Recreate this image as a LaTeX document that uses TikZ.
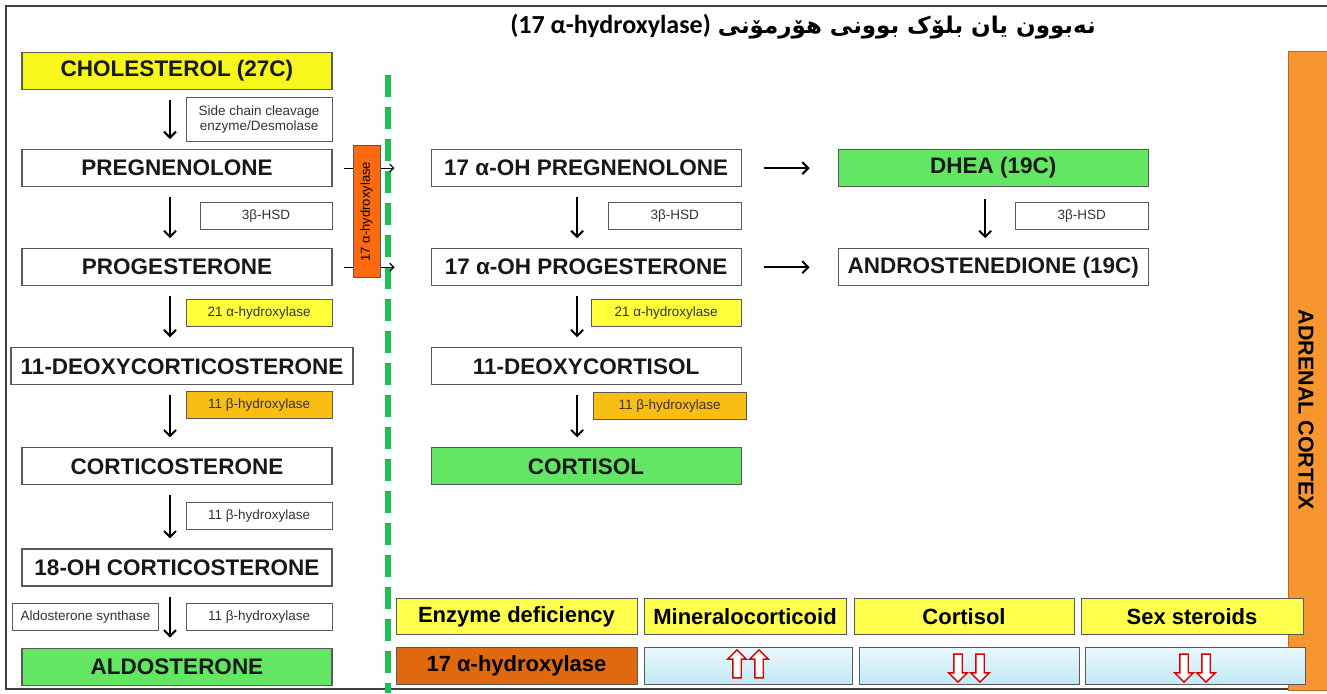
\documentclass[tikz,border=0pt]{standalone}
\usepackage{fontspec}
\setmainfont{Liberation Sans}
\newfontfamily\kurdfont[Script=Arabic]{DejaVu Sans}
\newfontfamily\titlefont{Carlito}
\TeXXeTstate=1
\usepackage{tikz}
\usetikzlibrary{positioning,arrows.meta,shapes.arrows,calc}
\definecolor{cholyel}{HTML}{F7F71B}
\definecolor{enzyel}{HTML}{FFFF3A}
\definecolor{hormgreen}{HTML}{63E663}
\definecolor{amber}{HTML}{F9BE14}
\definecolor{hydorange}{HTML}{FF6A10}
\definecolor{deforange}{HTML}{E0680F}
\definecolor{adrorange}{HTML}{F7962F}
\definecolor{adrstroke}{HTML}{B86A20}
\definecolor{headyel}{HTML}{FFFF4D}
\definecolor{dashgreen}{HTML}{1DBF55}
\definecolor{boxstroke}{HTML}{5A5A5A}
\definecolor{celltop}{HTML}{EAF8FC}
\definecolor{cellbot}{HTML}{BFE8F5}
\tikzset{
  box/.style    = {draw=boxstroke, line width=1.1pt, fill=white, align=center,
                   inner sep=2pt, minimum width=310pt, minimum height=37pt,
                   font=\bfseries\fontsize{22.5}{25}\selectfont, text=black!90},
  enz/.style    = {draw=boxstroke, line width=1pt, fill=white, align=center,
                   inner sep=2pt, minimum height=27pt, anchor=east,
                   font=\fontsize{13.5}{15}\selectfont, text=black!80},
  thead/.style  = {draw=boxstroke, line width=1pt, fill=headyel, inner sep=2pt,
                   minimum height=36pt, font=\bfseries\fontsize{22}{25}\selectfont},
  tval/.style   = {draw=boxstroke, line width=1pt, top color=celltop,
                   bottom color=cellbot, minimum height=37pt, inner sep=0pt},
  down/.style   = {-{Straight Barb[length=6pt,width=12pt]}, line width=2pt},
  across/.style = {-{Straight Barb[length=6pt,width=12pt]}, line width=2pt},
  thin/.style   = {-{Straight Barb[length=4pt,width=8pt]}, line width=1.2pt},
  hollow/.style = {single arrow, draw=red!85!black, fill=white, line width=1.4pt,
                   minimum height=28pt, inner sep=3.5pt,
                   single arrow head extend=5pt, single arrow head indent=0pt},
  uparr/.style  = {hollow, shape border rotate=90},
  dnarr/.style  = {hollow, shape border rotate=270},
}

\begin{document}
\begin{tikzpicture}[x=1pt, y=-1pt]
  \useasboundingbox (0,0) rectangle (1327,693);
  \fill[white] (0,0) rectangle (1327,693);

  % frame and adrenal cortex bar
  \draw[line width=1.2pt, black!75] (1327,6) -- (6,6) -- (6,689) -- (1327,689);
  \node[draw=adrstroke, fill=adrorange, line width=1pt, minimum width=40pt,
        minimum height=638pt, inner sep=0pt] (adr) at (1308,371) {};
  \node[rotate=-90, font=\bfseries\fontsize{21.5}{24}\selectfont] (adrtxt)
        at (1306,410) {ADRENAL CORTEX};

  % title
  \node (title) at (803,27)
        {{\titlefont\bfseries\fontsize{26}{28}\selectfont (17 α-hydroxylase)}\hspace{7pt}%
         {\kurdfont\bfseries\fontsize{23}{28}\selectfont\beginR نەبوون یان بلۆک بوونی هۆرمۆنی\endR}};

  % --- mineralocorticoid column ---
  \node[box, fill=cholyel] (chol) at (177,71) {CHOLESTEROL (27C)};
  \node[box, below=59pt of chol] (preg) {PREGNENOLONE};
  \node[box, below=61pt of preg] (prog) {PROGESTERONE};
  \node[box, below=61pt of prog, minimum width=342pt, xshift=5pt] (doc)
        {11-DEOXYCORTICOSTERONE};
  \node[box, below=62pt of doc, xshift=-5pt] (cort) {CORTICOSTERONE};
  \node[box, below=63pt of cort] (ohc) {18-OH CORTICOSTERONE};
  \node[box, fill=hormgreen, below=61pt of ohc] (aldo) {ALDOSTERONE};

  \node[enz, minimum width=146pt, minimum height=44pt, yshift=-29pt] (scc)
        at (chol.south east) {Side chain cleavage\\enzyme/Desmolase};
  \node[enz, minimum width=132pt, yshift=-29pt] (hsdA) at (preg.south east) {3β-HSD};
  \node[enz, minimum width=146pt, fill=enzyel, yshift=-27pt] (hydA)
        at (prog.south east) {21 α-hydroxylase};
  \node[enz, minimum width=146pt, fill=amber, yshift=-20pt] (obA)
        at (doc.south -| prog.east) {11 β-hydroxylase};
  \node[enz, minimum width=146pt, yshift=-31pt] (obB) at (cort.south east) {11 β-hydroxylase};
  \node[enz, minimum width=146pt, yshift=-30pt] (obC) at (ohc.south east) {11 β-hydroxylase};
  \node[enz, minimum width=146pt, anchor=west, yshift=-30pt] (synth)
        at (12,0 |- ohc.south) {Aldosterone synthase};

  \foreach \a/\b in {chol/preg, preg/prog, prog/doc, doc/cort, cort/ohc, ohc/aldo}
    \draw[down] ([yshift=-10pt]\a.south -| 170,0) -- ([yshift=10pt]\b.north -| 170,0);

  % --- glucocorticoid column ---
  \node[box, right=98pt of preg] (ohpreg) {17 α-OH PREGNENOLONE};
  \node[box, right=98pt of prog] (ohprog) {17 α-OH PROGESTERONE};
  \node[box, below=61pt of ohprog] (dcort) {11-DEOXYCORTISOL};
  \node[box, fill=hormgreen, below=62pt of dcort] (cortisol) {CORTISOL};

  \node[enz, minimum width=133pt, yshift=-29pt] (hsdB) at (ohpreg.south east) {3β-HSD};
  \node[enz, minimum width=150pt, fill=enzyel, yshift=-27pt] (hydB)
        at (ohprog.south east) {21 α-hydroxylase};
  \node[enz, minimum width=153pt, fill=amber, xshift=5pt, yshift=-21pt] (obD)
        at (dcort.south east) {11 β-hydroxylase};

  \foreach \a/\b in {ohpreg/ohprog, ohprog/dcort, dcort/cortisol}
    \draw[down] ([xshift=-9pt,yshift=-10pt]\a.south) -- ([xshift=-9pt,yshift=10pt]\b.north);

  % --- sex steroid column ---
  \node[box, fill=hormgreen, right=96pt of ohpreg] (dhea) {DHEA (19C)};
  \node[box, right=96pt of ohprog] (andro) {ANDROSTENEDIONE (19C)};
  \node[enz, minimum width=133pt, yshift=-29pt] (hsdC) at (dhea.south east) {3β-HSD};
  \draw[down] ([xshift=-8pt,yshift=-12pt]dhea.south) -- ([xshift=-8pt,yshift=10pt]andro.north);

  \draw[across] ([xshift=22pt]ohpreg.east) -- ([xshift=-28pt]dhea.west);
  \draw[across] ([xshift=22pt]ohprog.east) -- ([xshift=-28pt]andro.west);

  % --- 17 alpha-hydroxylase block ---
  \draw[dashgreen, line width=6pt, dash pattern=on 22pt off 10pt] (388,75) -- (388,693);
  \draw[thin] ([xshift=11pt]preg.east) -- ([xshift=62pt]preg.east);
  \draw[thin] ([xshift=11pt]prog.east) -- ([xshift=62pt]prog.east);
  \node[draw=boxstroke, fill=hydorange, line width=0.8pt, rotate=90, inner sep=1pt,
        minimum width=132pt, minimum height=27pt, font=\fontsize{13}{14}\selectfont]
        (hyd17) at ($(preg.east)!0.5!(prog.east)+(34,-6)$) {17 α-hydroxylase};

  % --- summary table ---
  \node[thead, minimum width=241pt] (thEnz) at (516.5,616.5) {Enzyme deficiency};
  \node[thead, minimum width=202pt, right=6pt of thEnz] (thMin) {Mineralocorticoid};
  \node[thead, minimum width=220pt, right=7pt of thMin] (thCort) {Cortisol};
  \node[thead, minimum width=222pt, right=6pt of thCort] (thSex) {Sex steroids};

  \node[thead, fill=deforange, minimum height=37pt, minimum width=241pt,
        below=12pt of thEnz] (tdEnz) {17 α-hydroxylase};
  \node[tval, minimum width=208pt, right=6pt of tdEnz] (tdMin) {};
  \node[tval, minimum width=220pt, right=6pt of tdMin] (tdCort) {};
  \node[tval, minimum width=220pt, right=5pt of tdCort] (tdSex) {};

  \node[uparr] (minA) at ([xshift=-11pt]tdMin.center) {};
  \node[uparr] (minB) at ([xshift=11pt]tdMin.center) {};
  \node[dnarr] (corA) at ([xshift=-11pt]tdCort.center) {};
  \node[dnarr] (corB) at ([xshift=11pt]tdCort.center) {};
  \node[dnarr] (sexA) at ([xshift=-11pt]tdSex.center) {};
  \node[dnarr] (sexB) at ([xshift=11pt]tdSex.center) {};
\end{tikzpicture}
\end{document}
